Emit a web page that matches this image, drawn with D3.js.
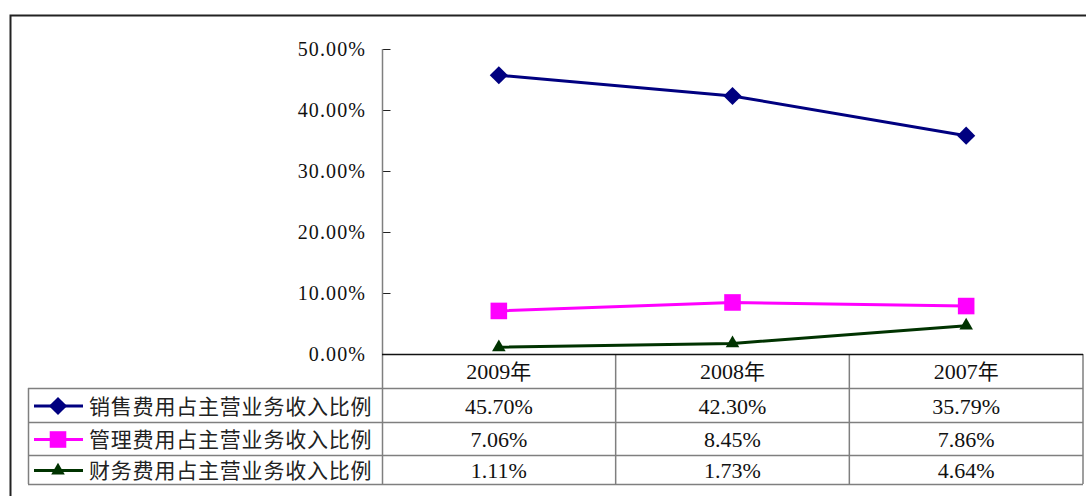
<!DOCTYPE html>
<html>
<head>
<meta charset="utf-8">
<script src="https://cdn.jsdelivr.net/npm/d3@7"></script>
<style>
  body { margin: 0; background: #fff; }
  svg { display: block; }
</style>
</head>
<body>
<div id="chart"></div>
<script>
const years = ['2009年', '2008年', '2007年'];
const seriesNames = ['销售费用占主营业务收入比例', '管理费用占主营业务收入比例', '财务费用占主营业务收入比例'];
const salesRatio = [0.4570, 0.4230, 0.3579];
const adminRatio = [0.0706, 0.0845, 0.0786];
const financeRatio = [0.0111, 0.0173, 0.0464];
const yTicks = [0, 0.1, 0.2, 0.3, 0.4, 0.5];

const colors = ['#000080', '#ff00ff', '#003300'];
const symbols = [d3.symbolSquare, d3.symbolSquare, d3.symbolTriangle];
const symbolSizes = [165, 275, 80];
const symbolRotate = [45, 0, 0];

const series = [salesRatio, adminRatio, financeRatio].map((values, i) => ({
    name: seriesNames[i], values, color: colors[i], symbol: symbols[i], size: symbolSizes[i], rot: symbolRotate[i]
}));

const width = 1086, height = 496;
const svg = d3.select('#chart').append('svg').attr('width', width).attr('height', height);

const serif = "'Liberation Serif', 'DejaVu Serif', 'Times New Roman', serif";
const cjk = "'Noto Sans CJK SC', sans-serif";

// outer frame (right and bottom edges run past the picture)
svg.append('rect')
    .attr('x', 10.5).attr('y', 15.5)
    .attr('width', 1200).attr('height', 600)
    .attr('fill', 'none').attr('stroke', '#222').attr('stroke-width', 2);

const x = d3.scaleBand().domain(years).range([382, 1083]).padding(0);
const y = d3.scaleLinear().domain([0, 0.5]).range([354, 49]);
const fmt = d3.format('.2%');

const rowTop = 388;
const rowH = [34, 33, 29];
const rowY = [rowTop, rowTop + rowH[0], rowTop + rowH[0] + rowH[1], rowTop + rowH[0] + rowH[1] + rowH[2]];
const tableLeft = 28;
const gray = '#7f7f7f';

// y axis
const yAxis = svg.append('g').attr('transform', 'translate(382.5,0)')
    .call(d3.axisRight(y).tickValues(yTicks).tickSize(8).tickFormat(''));
yAxis.select('.domain').remove();
yAxis.selectAll('line').attr('stroke', '#222');
svg.append('line').attr('x1', 382.5).attr('x2', 382.5).attr('y1', 49).attr('y2', rowY[3])
    .attr('stroke', gray).attr('stroke-width', 1.5);

svg.append('g').selectAll('text').data(yTicks).join('text')
    .attr('x', 366).attr('y', d => y(d))
    .attr('dy', '0.35em').attr('text-anchor', 'end')
    .style('font-family', serif).style('font-size', '20px')
    .style('letter-spacing', '1.1px').attr('fill', '#111')
    .text(fmt);

// data table
const tbl = svg.append('g').attr('stroke', gray).attr('stroke-width', 1.5);
rowY.forEach(yy => {
    tbl.append('line').attr('x1', tableLeft).attr('x2', 1083).attr('y1', yy + 0.5).attr('y2', yy + 0.5);
});
tbl.append('line').attr('x1', tableLeft + 0.5).attr('x2', tableLeft + 0.5).attr('y1', rowY[0]).attr('y2', rowY[3]);
years.forEach(yr => {
    const xr = x(yr) + x.bandwidth();
    tbl.append('line').attr('x1', xr).attr('x2', xr).attr('y1', 354).attr('y2', rowY[3]);
});

// x axis line (zero)
svg.append('line').attr('x1', 382).attr('x2', 1083).attr('y1', 354.5).attr('y2', 354.5)
    .attr('stroke', '#111').attr('stroke-width', 1.5);

const cellFont = g => g.style('font-family', serif).style('font-size', '22px')
    .attr('fill', '#111').attr('text-anchor', 'middle');

svg.append('g').selectAll('text').data(years).join('text')
    .attr('x', d => x(d) + x.bandwidth() / 2).attr('y', 371).attr('dy', '0.35em')
    .call(cellFont).text(d => d.replace('年', ''))
    .append('tspan').style('font-family', cjk).style('font-size', '21px').text('年');

series.forEach((s, i) => {
    const cy = (rowY[i] + rowY[i + 1]) / 2 + 1;
    svg.append('g').selectAll('text').data(s.values).join('text')
        .attr('x', (d, j) => x(years[j]) + x.bandwidth() / 2).attr('y', cy).attr('dy', '0.35em')
        .call(cellFont).text(fmt);

    // legend key
    svg.append('line').attr('x1', 34).attr('x2', 83).attr('y1', cy).attr('y2', cy)
        .attr('stroke', s.color).attr('stroke-width', 3);
    svg.append('path').attr('d', d3.symbol(s.symbol, s.size)())
        .attr('transform', `translate(58,${cy}) rotate(${s.rot})`).attr('fill', s.color);
    svg.append('text').attr('x', 89).attr('y', cy).attr('dy', '0.36em')
        .style('font-family', cjk).style('font-size', '21px')
        .style('letter-spacing', '0.8px').attr('fill', '#222')
        .text(s.name);
});

// lines and markers
const line = d3.line().x((d, j) => x(years[j]) + x.bandwidth() / 2).y(d => y(d));
series.forEach(s => {
    svg.append('path').datum(s.values).attr('d', line)
        .attr('fill', 'none').attr('stroke', s.color).attr('stroke-width', 3);
    svg.append('g').selectAll('path').data(s.values).join('path')
        .attr('d', d3.symbol(s.symbol, s.size)())
        .attr('transform', (d, j) => `translate(${x(years[j]) + x.bandwidth() / 2},${y(d)}) rotate(${s.rot})`)
        .attr('fill', s.color);
});
</script>
</body>
</html>
